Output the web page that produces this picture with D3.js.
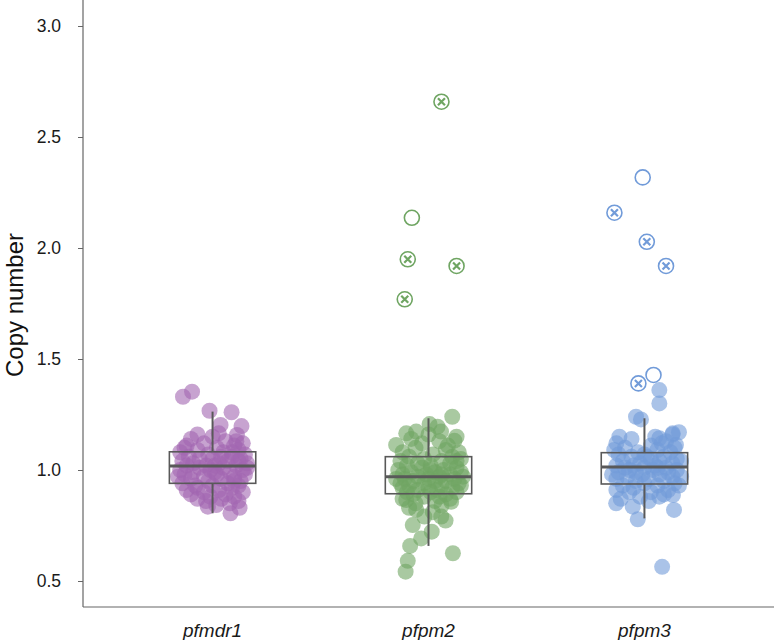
<!DOCTYPE html>
<html>
<head>
<meta charset="utf-8">
<script src="https://cdn.jsdelivr.net/npm/d3@7"></script>
<style>
  body { margin: 0; background: #fff; }
  svg { display: block; font-family: "Liberation Sans", Arial, Helvetica, sans-serif; }
</style>
</head>
<body>
<svg width="774" height="640"></svg>
<script>
// genes on the x axis
var genes = ['pfmdr1', 'pfpm2', 'pfpm3']
var colors = ['#a265b0', '#6fa562', '#719bd9']

// box stats: [lower whisker, q1, median, q3, upper whisker]
var boxPfmdr1 = [0.805, 0.940, 1.018, 1.082, 1.263]
var boxPfpm2  = [0.658, 0.893, 0.970, 1.060, 1.233]
var boxPfpm3  = [0.782, 0.937, 1.013, 1.078, 1.233]

// jittered samples: copy number and horizontal jitter (category units)
var pfmdr1Values = [1.353,1.330,1.267,1.260,1.203,1.198,1.165,1.158,0.842,0.835,0.830,0.805,
  1.14,1.13,1.12,1.12,1.11,1.10,1.10,1.09,1.09,1.08,1.08,1.07,1.07,1.06,1.06,1.05,1.05,1.05,
  1.04,1.04,1.03,1.03,1.03,1.02,1.02,1.02,1.01,1.01,1.00,1.00,1.00,0.99,0.99,0.98,0.98,0.98,
  0.97,0.97,0.96,0.96,0.95,0.95,0.94,0.94,0.93,0.93,0.92,0.92,0.91,0.91,0.90,0.90,0.89,0.89,
  0.88,0.88,0.87,0.87,0.86,0.86,0.85,1.15,1.16,1.13,1.11,1.06,1.04,1.01,0.97,0.93,0.99,1.08,
  1.02,0.95]
var pfmdr1Jitter = [-0.095,-0.137,-0.014,0.088,0.037,0.134,0.029,0.113,0.017,-0.022,0.125,0.083,
  -0.10,0.06,-0.04,0.14,0.10,-0.13,0.02,-0.07,0.12,0.05,-0.15,-0.02,0.15,0.09,-0.11,0.00,0.13,-0.06,
  0.07,-0.14,0.03,-0.09,0.16,-0.03,0.11,-0.12,0.05,-0.06,0.14,-0.01,-0.15,0.08,-0.09,0.02,0.15,-0.13,
  -0.04,0.10,0.04,-0.10,0.13,-0.02,0.07,-0.14,0.00,0.12,-0.07,0.09,-0.12,0.03,0.14,-0.04,0.06,-0.10,
  0.10,-0.01,-0.07,0.04,0.12,-0.03,0.08,0.00,-0.07,0.11,-0.12,0.04,0.12,0.16,-0.16,-0.08,0.01,0.09,
  0.01,0.10]

var pfpm2Values = [1.240,1.207,1.195,1.173,1.173,1.165,1.132,1.113,0.880,0.865,0.857,0.820,0.790,
  0.790,0.772,0.752,0.722,0.692,0.658,0.625,0.591,0.542,
  1.10,1.09,1.08,1.08,1.07,1.06,1.06,1.05,1.05,1.04,1.04,1.03,1.03,1.02,1.02,1.01,1.01,1.00,1.00,
  0.99,0.99,0.99,0.98,0.98,0.98,0.97,0.97,0.97,0.96,0.96,0.96,0.95,0.95,0.95,0.94,0.94,0.94,0.93,
  0.93,0.92,0.92,0.92,0.91,0.91,0.90,0.90,0.90,0.89,0.89,0.88,0.87,0.87,0.86,0.85,0.84,0.83,0.81,
  1.11,1.12,1.13,1.14,1.15,1.16,1.00,0.98,0.93,1.04,0.96]
var pfpm2Jitter = [0.110,0.005,0.042,0.058,-0.057,-0.103,0.120,-0.150,0.051,-0.103,0.105,-0.057,0.059,
  -0.019,0.079,-0.073,0.015,-0.034,-0.085,0.113,-0.096,-0.106,
  -0.06,0.08,-0.12,0.14,0.02,-0.09,0.11,-0.02,0.15,0.06,-0.13,-0.05,0.10,0.01,-0.10,0.13,-0.03,0.07,-0.14,
  0.03,0.15,-0.08,-0.01,0.10,-0.12,0.05,-0.05,0.16,0.00,-0.11,0.12,0.08,-0.07,0.03,-0.13,0.14,-0.02,0.06,
  -0.09,0.11,0.00,-0.12,0.04,-0.05,0.13,-0.10,0.01,0.08,-0.07,-0.02,0.10,-0.12,0.03,-0.06,0.06,-0.09,0.02,
  0.09,-0.03,0.05,-0.08,0.13,0.00,0.01,0.06,0.15,0.13,-0.15]

var pfpm3Values = [1.360,1.300,1.240,1.228,1.165,1.150,1.143,1.113,0.887,0.880,0.850,0.835,0.820,0.778,0.564,
  1.14,1.13,1.12,1.11,1.10,1.10,1.09,1.08,1.08,1.07,1.07,1.06,1.06,1.05,1.05,1.04,1.04,1.03,1.03,
  1.02,1.02,1.02,1.01,1.01,1.01,1.00,1.00,0.99,0.99,0.99,0.98,0.98,0.97,0.97,0.96,0.96,0.95,0.95,
  0.94,0.94,0.93,0.93,0.92,0.91,0.91,0.90,0.90,0.89,0.88,0.87,0.86,1.15,1.16,1.17,1.12,1.09,1.04,
  0.97,1.01,0.98,1.06,0.93,1.00]
var pfpm3Jitter = [0.069,0.069,-0.039,-0.016,0.131,-0.116,0.069,0.146,0.132,0.069,-0.131,-0.054,0.137,-0.031,0.082,
  -0.06,0.10,-0.13,0.03,0.14,-0.09,0.06,-0.03,0.12,-0.12,0.00,0.09,-0.06,0.15,0.03,-0.10,0.07,-0.02,0.13,
  -0.13,0.05,-0.05,0.10,0.00,-0.09,0.15,0.04,-0.04,0.11,-0.12,0.07,-0.01,0.13,-0.08,0.02,-0.13,0.09,-0.04,
  0.14,0.00,-0.10,0.06,-0.05,0.11,-0.13,0.03,-0.07,0.09,-0.02,-0.11,0.02,0.05,0.13,0.16,0.08,-0.14,0.17,
  0.17,0.06,-0.15,0.01,0.16,-0.07]

// outliers drawn hollow; 'x' ones have a cross inside
var pfpm2Outliers = [2.659, 2.136, 1.949, 1.919, 1.769]
var pfpm2OutJitter = [0.060, -0.077, -0.096, 0.130, -0.110]
var pfpm2OutMark = ['x', 'o', 'x', 'x', 'x']
var pfpm3Outliers = [2.318, 2.159, 2.028, 1.919, 1.428, 1.390]
var pfpm3OutJitter = [-0.008, -0.139, 0.011, 0.100, 0.042, -0.028]
var pfpm3OutMark = ['o', 'x', 'x', 'x', 'o', 'x']

var yTicks = [0.5, 1.0, 1.5, 2.0, 2.5, 3.0]

var svg = d3.select('svg')
var left = 83, right = 774, bottom = 607

// discrete axis with 0.6 expansion each side, like ggplot
var x = d3.scaleLinear().domain([0.4, 3.6]).range([left, right])
var y = d3.scaleLinear().domain([0.5, 3.0]).range([581, 26])

var groups = [
  { name: genes[0], box: boxPfmdr1, values: pfmdr1Values, jitter: pfmdr1Jitter, out: [], outJ: [], outM: [] },
  { name: genes[1], box: boxPfpm2, values: pfpm2Values, jitter: pfpm2Jitter, out: pfpm2Outliers, outJ: pfpm2OutJitter, outM: pfpm2OutMark },
  { name: genes[2], box: boxPfpm3, values: pfpm3Values, jitter: pfpm3Jitter, out: pfpm3Outliers, outJ: pfpm3OutJitter, outM: pfpm3OutMark }
]

// axes
svg.append('line').attr('x1', left).attr('x2', left).attr('y1', 0).attr('y2', bottom)
  .style('stroke', '#666').style('stroke-width', 1.2)
svg.append('line').attr('x1', left).attr('x2', right).attr('y1', bottom).attr('y2', bottom)
  .style('stroke', '#666').style('stroke-width', 1.2)

let yAxis = svg.append('g').attr('transform', 'translate(' + left + ',0)')
  .call(d3.axisLeft(y).tickValues(yTicks).tickFormat(d3.format('.1f')).tickSize(5).tickPadding(17))
yAxis.select('.domain').remove()
yAxis.selectAll('line').style('stroke', '#666')
yAxis.selectAll('text').style('font-size', '17.5px').style('fill', '#1a1a1a')

svg.append('text')
  .attr('transform', 'translate(23,' + 305 + ') rotate(-90)')
  .attr('text-anchor', 'middle')
  .style('font-size', '24px').style('fill', '#111')
  .text('Copy number')

svg.selectAll('text.gene')
  .data(genes)
  .enter()
  .append('text')
  .attr('class', 'gene')
  .attr('x', (d, i) => x(i + 1))
  .attr('y', 637)
  .attr('text-anchor', 'middle')
  .style('font-size', '19px').style('font-style', 'italic').style('fill', '#1a1a1a')
  .text(d => d)

groups.forEach(function(g, i) {
  let cx = i + 1
  let col = colors[i]

  // jittered points
  svg.append('g').selectAll('circle')
    .data(g.values)
    .enter()
    .append('circle')
    .attr('cx', (d, k) => x(cx + g.jitter[k]))
    .attr('cy', d => y(d))
    .attr('r', 8)
    .style('fill', col)
    .style('fill-opacity', 0.6)

  // hollow outliers
  let og = svg.append('g').selectAll('g')
    .data(g.out)
    .enter()
    .append('g')
    .attr('transform', (d, k) => 'translate(' + x(cx + g.outJ[k]) + ',' + y(d) + ')')
  og.append('circle').attr('r', 7.5)
    .style('fill', 'none').style('stroke', col).style('stroke-width', 1.6)
  og.filter((d, k) => g.outM[k] === 'x')
    .append('path')
    .attr('d', 'M-3.5,-3.5L3.5,3.5M-3.5,3.5L3.5,-3.5')
    .style('stroke', col).style('stroke-width', 2.2)

  // box and whiskers
  let b = g.box
  let bx = svg.append('g').style('stroke', '#595959').style('fill', 'none')
  bx.append('line').attr('x1', x(cx)).attr('x2', x(cx)).attr('y1', y(b[0])).attr('y2', y(b[1])).style('stroke-width', 2)
  bx.append('line').attr('x1', x(cx)).attr('x2', x(cx)).attr('y1', y(b[3])).attr('y2', y(b[4])).style('stroke-width', 2)
  bx.append('rect')
    .attr('x', x(cx - 0.2)).attr('width', x(cx + 0.2) - x(cx - 0.2))
    .attr('y', y(b[3])).attr('height', y(b[1]) - y(b[3]))
    .style('stroke-width', 1.6)
  bx.append('line').attr('x1', x(cx - 0.2)).attr('x2', x(cx + 0.2)).attr('y1', y(b[2])).attr('y2', y(b[2])).style('stroke-width', 3)
})
</script>
</body>
</html>
